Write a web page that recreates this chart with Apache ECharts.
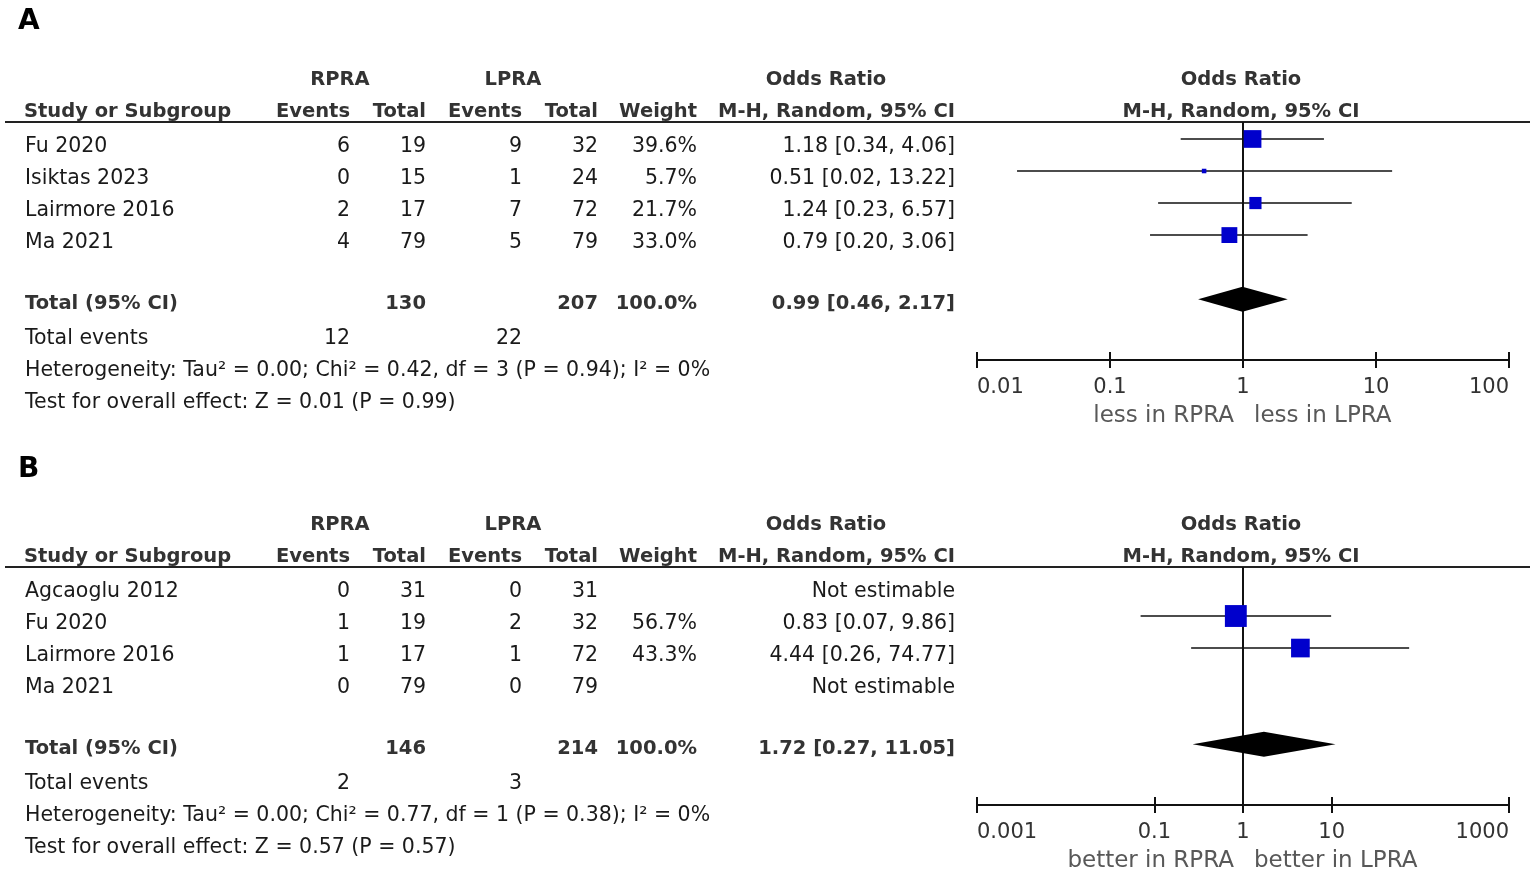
<!DOCTYPE html>
<html>
<head>
<meta charset="utf-8">
<script src="https://cdn.jsdelivr.net/npm/echarts@6/dist/echarts.min.js"></script>
<style>
html, body { margin: 0; padding: 0; background: #fff; }
#main { width: 1535px; height: 874px; }
</style>
</head>
<body>
<div id="main"></div>
<script>
// ---- panel A ----
const studiesA = ['Fu 2020', 'Isiktas 2023', 'Lairmore 2016', 'Ma 2021']
const rpraEventsA = [6, 0, 2, 4]
const rpraTotalA = [19, 15, 17, 79]
const lpraEventsA = [9, 1, 7, 5]
const lpraTotalA = [32, 24, 72, 79]
const weightA = [39.6, 5.7, 21.7, 33.0]
const orA = [1.18, 0.51, 1.24, 0.79]
const lowA = [0.34, 0.02, 0.23, 0.20]
const highA = [4.06, 13.22, 6.57, 3.06]
const totalA = { rpra: 130, lpra: 207, rpraEv: 12, lpraEv: 22, or: 0.99, low: 0.46, high: 2.17 }
const hetA = 'Heterogeneity: Tau\u00b2 = 0.00; Chi\u00b2 = 0.42, df = 3 (P = 0.94); I\u00b2 = 0%'
const testA = 'Test for overall effect: Z = 0.01 (P = 0.99)'
const ticksA = [0.01, 0.1, 1, 10, 100]
const footerA = ['less in RPRA', 'less in LPRA']

// ---- panel B ----
const studiesB = ['Agcaoglu 2012', 'Fu 2020', 'Lairmore 2016', 'Ma 2021']
const rpraEventsB = [0, 1, 1, 0]
const rpraTotalB = [31, 19, 17, 79]
const lpraEventsB = [0, 2, 1, 0]
const lpraTotalB = [31, 32, 72, 79]
const weightB = [null, 56.7, 43.3, null]
const orB = [null, 0.83, 4.44, null]
const lowB = [null, 0.07, 0.26, null]
const highB = [null, 9.86, 74.77, null]
const totalB = { rpra: 146, lpra: 214, rpraEv: 2, lpraEv: 3, or: 1.72, low: 0.27, high: 11.05 }
const hetB = 'Heterogeneity: Tau\u00b2 = 0.00; Chi\u00b2 = 0.77, df = 1 (P = 0.38); I\u00b2 = 0%'
const testB = 'Test for overall effect: Z = 0.57 (P = 0.57)'
const ticksB = [0.001, 0.1, 1, 10, 1000]
const footerB = ['better in RPRA', 'better in LPRA']

const FONT = '"DejaVu Sans", Verdana, sans-serif'
const colRight = [350, 426, 522, 598, 697, 955] //右对齐列
const Y_MIN = -0.53, Y_MAX = 6.9, TOTAL_ROW = 5

function txt(x, y, s, opt) {
    opt = opt || {}
    return {
        type: 'text', x: x, y: y, silent: true,
        style: {
            text: String(s),
            font: (opt.bold ? 'bold ' : '') + (opt.size || 20.5) + 'px ' + FONT,
            fill: opt.color || '#1a1a1a',
            align: opt.align || 'left',
            verticalAlign: 'middle'
        }
    }
}

function fmtCI(o, l, h) {
    return o.toFixed(2) + ' [' + l.toFixed(2) + ', ' + h.toFixed(2) + ']'
}

// 表格文字
function tableGraphics(off, p) {
    const g = []
    const hb = { bold: true, size: 19.5, color: '#333', align: 'center' }
    g.push(txt(340, 80 + off, 'RPRA', hb))
    g.push(txt(513, 80 + off, 'LPRA', hb))
    g.push(txt(826, 80 + off, 'Odds Ratio', hb))
    g.push(txt(1241, 80 + off, 'Odds Ratio', hb))
    const hr = { bold: true, size: 19.5, color: '#333', align: 'right' }
    g.push(txt(24, 112 + off, 'Study or Subgroup', { bold: true, size: 19.5, color: '#333' }))
    const heads = ['Events', 'Total', 'Events', 'Total', 'Weight', 'M-H, Random, 95% CI']
    heads.forEach((h, i) => g.push(txt(colRight[i], 112 + off, h, hr)))
    g.push(txt(1241, 112 + off, 'M-H, Random, 95% CI', hb))
    g.push({
        type: 'line', silent: true,
        shape: { x1: 5, y1: 122 + off, x2: 1530, y2: 122 + off },
        style: { stroke: '#222', lineWidth: 2 }
    })
    p.studies.forEach((s, i) => {
        const y = 147 + off + i * 32
        g.push(txt(25, y, s))
        const cells = [p.re[i], p.rt[i], p.le[i], p.lt[i],
            p.w[i] == null ? '' : p.w[i].toFixed(1) + '%',
            p.or[i] == null ? 'Not estimable' : fmtCI(p.or[i], p.lo[i], p.hi[i])]
        cells.forEach((c, j) => g.push(txt(colRight[j], y, c, { align: 'right' })))
    })
    const tb = { bold: true, size: 19.5, color: '#333', align: 'right' }
    g.push(txt(25, 304 + off, 'Total (95% CI)', { bold: true, size: 19.5, color: '#333' }))
    g.push(txt(colRight[1], 304 + off, p.total.rpra, tb))
    g.push(txt(colRight[3], 304 + off, p.total.lpra, tb))
    g.push(txt(colRight[4], 304 + off, '100.0%', tb))
    g.push(txt(colRight[5], 304 + off, fmtCI(p.total.or, p.total.low, p.total.high), tb))
    g.push(txt(25, 339 + off, 'Total events'))
    g.push(txt(colRight[0], 339 + off, p.total.rpraEv, { align: 'right' }))
    g.push(txt(colRight[2], 339 + off, p.total.lpraEv, { align: 'right' }))
    g.push(txt(25, 371 + off, p.het))
    g.push(txt(25, 403 + off, p.test))
    return g
}

const panels = [
    { studies: studiesA, re: rpraEventsA, rt: rpraTotalA, le: lpraEventsA, lt: lpraTotalA,
      w: weightA, or: orA, lo: lowA, hi: highA, total: totalA, het: hetA, test: testA,
      ticks: ticksA, footer: footerA, top: 122 },
    { studies: studiesB, re: rpraEventsB, rt: rpraTotalB, le: lpraEventsB, lt: lpraTotalB,
      w: weightB, or: orB, lo: lowB, hi: highB, total: totalB, het: hetB, test: testB,
      ticks: ticksB, footer: footerB, top: 567 }
]

const graphic = []
graphic.push(txt(18, 22, 'A', { bold: true, size: 28, color: '#000' }))
graphic.push(txt(18, 470, 'B', { bold: true, size: 28, color: '#000' }))
panels.forEach((p, k) => graphic.push(...tableGraphics(k * 445, p)))

const grids = [], xAxes = [], yAxes = [], series = []
panels.forEach((p, k) => {
    grids.push({ left: 977, width: 532, top: p.top, height: 238, containLabel: false })
    const base = {
        type: 'log', logBase: 10, gridIndex: k, position: 'bottom',
        min: p.ticks[0], max: p.ticks[p.ticks.length - 1],
        splitLine: { show: false }
    }
    xAxes.push(Object.assign({}, base, {
        axisLine: { show: true, onZero: false, lineStyle: { color: '#111', width: 2 } },
        axisTick: { show: true, length: 8, inside: false, customValues: p.ticks, lineStyle: { color: '#111', width: 2 } },
        axisLabel: {
            show: true, customValues: p.ticks, margin: 17, fontSize: 21, fontFamily: FONT, color: '#333',
            alignMinLabel: 'left', alignMaxLabel: 'right',
            formatter: v => String(parseFloat(Number(v).toPrecision(6)))
        }
    }))
    // 轴线上方的刻度
    xAxes.push(Object.assign({}, base, {
        axisLine: { show: false, onZero: false },
        axisTick: { show: true, length: 8, inside: true, customValues: p.ticks, lineStyle: { color: '#111', width: 2 } },
        axisLabel: { show: false }
    }))
    yAxes.push({ type: 'value', gridIndex: k, inverse: true, min: Y_MIN, max: Y_MAX, show: false })

    const xi = k * 2
    // 研究点和置信区间
    const rows = []
    p.or.forEach((o, i) => { if (o != null) rows.push([o, p.lo[i], p.hi[i], i, p.w[i]]) })
    series.push({
        type: 'custom', xAxisIndex: xi, yAxisIndex: k, silent: true, z: 3,
        encode: { x: 0, y: 3 },
        data: rows,
        renderItem(params, api) {
            const c = api.coord([api.value(0), api.value(3)])
            const a = api.coord([api.value(1), api.value(3)])
            const b = api.coord([api.value(2), api.value(3)])
            const s = 3.37 * Math.sqrt(api.value(4)) - 3.5
            return {
                type: 'group', children: [
                    { type: 'line', shape: { x1: a[0], y1: a[1], x2: b[0], y2: b[1] }, style: { stroke: '#111', lineWidth: 1.5 } },
                    { type: 'rect', shape: { x: c[0] - s / 2, y: c[1] - s / 2, width: s, height: s }, style: { fill: '#0000cc' } }
                ]
            }
        }
    })
    // 合并效应菱形
    series.push({
        type: 'custom', xAxisIndex: xi, yAxisIndex: k, silent: true, z: 4,
        encode: { x: 0, y: 3 },
        data: [[p.total.or, p.total.low, p.total.high, TOTAL_ROW]],
        renderItem(params, api) {
            const r = api.value(3)
            const pts = [
                api.coord([api.value(1), r]),
                api.coord([api.value(0), r - 0.39]),
                api.coord([api.value(2), r]),
                api.coord([api.value(0), r + 0.39])
            ]
            return { type: 'polygon', shape: { points: pts }, style: { fill: '#000' } }
        }
    })
    // 无效线 OR = 1
    series.push({
        type: 'line', xAxisIndex: xi, yAxisIndex: k, silent: true, z: 2,
        symbol: 'none', data: [[1, Y_MIN], [1, Y_MAX]],
        lineStyle: { color: '#111', width: 2 }
    })
    // 底部说明文字
    series.push({
        type: 'custom', xAxisIndex: xi, yAxisIndex: k, silent: true,
        encode: { x: 0, y: 1 },
        data: [[1, Y_MAX]],
        renderItem(params, api) {
            const c = api.coord([api.value(0), api.value(1)])
            const st = (t, al) => ({ text: t, font: '23px ' + FONT, fill: '#585858', align: al, verticalAlign: 'middle' })
            return {
                type: 'group', children: [
                    { type: 'text', x: c[0] - 9, y: c[1] + 56, style: st(p.footer[0], 'right') },
                    { type: 'text', x: c[0] + 11, y: c[1] + 56, style: st(p.footer[1], 'left') }
                ]
            }
        }
    })
})

const myChart = echarts.init(document.getElementById('main'), null, { renderer: 'canvas' })
myChart.setOption({
    animation: false,
    backgroundColor: '#fff',
    grid: grids,
    xAxis: xAxes,
    yAxis: yAxes,
    series: series,
    graphic: graphic
})
</script>
</body>
</html>
